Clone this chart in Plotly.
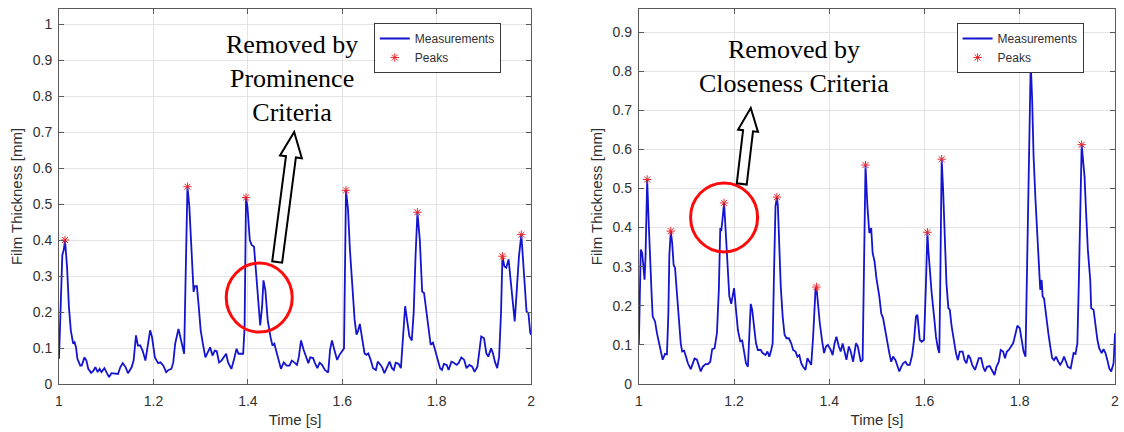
import math
import plotly.graph_objects as go

# ---------------- data ----------------
t_left = [1.000, 1.007, 1.010, 1.0127, 1.017, 1.021, 1.025, 1.030, 1.033, 1.036, 1.039, 1.045, 1.048,
          1.054, 1.058, 1.062, 1.068, 1.073, 1.077, 1.082, 1.086, 1.090, 1.096, 1.101, 1.106, 1.111,
          1.118, 1.125, 1.130, 1.135, 1.141, 1.146, 1.154, 1.158, 1.163, 1.167, 1.172, 1.177, 1.183,
          1.187, 1.193, 1.197, 1.203, 1.210, 1.215, 1.221, 1.227, 1.232, 1.238, 1.242, 1.246, 1.253,
          1.259, 1.265, 1.268, 1.272, 1.276, 1.280, 1.285, 1.288, 1.292, 1.296, 1.300, 1.306, 1.310,
          1.315, 1.320, 1.325, 1.330, 1.334, 1.339, 1.344, 1.349, 1.354, 1.358, 1.365, 1.370, 1.376,
          1.380, 1.386, 1.390, 1.393, 1.396, 1.399, 1.404, 1.408, 1.413, 1.418, 1.423, 1.426, 1.430,
          1.433, 1.437, 1.442, 1.448, 1.452, 1.456, 1.461, 1.466, 1.470, 1.476, 1.482, 1.488, 1.493,
          1.498, 1.504, 1.508, 1.5125, 1.518, 1.524, 1.528, 1.532, 1.538, 1.542, 1.547, 1.552, 1.557,
          1.563, 1.570, 1.574, 1.578, 1.584, 1.589, 1.594, 1.599, 1.6035, 1.6077, 1.612, 1.616, 1.622,
          1.626, 1.630, 1.633, 1.637, 1.641, 1.647, 1.651, 1.655, 1.660, 1.665, 1.671, 1.675, 1.681,
          1.685, 1.689, 1.695, 1.700, 1.705, 1.709, 1.713, 1.719, 1.724, 1.730, 1.733, 1.737, 1.742,
          1.747, 1.751, 1.755, 1.759, 1.764, 1.769, 1.773, 1.778, 1.783, 1.787, 1.792, 1.796, 1.801,
          1.807, 1.811, 1.815, 1.821, 1.825, 1.831, 1.836, 1.842, 1.846, 1.852, 1.858, 1.863, 1.869,
          1.875, 1.880, 1.886, 1.890, 1.894, 1.900, 1.905, 1.909, 1.915, 1.919, 1.923, 1.928, 1.932,
          1.936, 1.939, 1.943, 1.947, 1.952, 1.956, 1.960, 1.965, 1.969, 1.974, 1.979, 1.983, 1.987,
          1.990, 1.994, 1.998, 2.000]
y_left = [0.070, 0.358, 0.372, 0.400, 0.326, 0.214, 0.149, 0.112, 0.116, 0.102, 0.070, 0.051, 0.051,
          0.074, 0.065, 0.042, 0.031, 0.037, 0.047, 0.033, 0.042, 0.033, 0.044, 0.033, 0.019, 0.030,
          0.030, 0.028, 0.047, 0.058, 0.047, 0.030, 0.047, 0.065, 0.135, 0.107, 0.107, 0.093, 0.065,
          0.102, 0.149, 0.130, 0.074, 0.058, 0.060, 0.051, 0.033, 0.039, 0.042, 0.060, 0.112, 0.153,
          0.121, 0.084, 0.288, 0.548, 0.493, 0.381, 0.256, 0.272, 0.272, 0.214, 0.149, 0.102, 0.074,
          0.088, 0.102, 0.079, 0.093, 0.091, 0.060, 0.065, 0.074, 0.084, 0.060, 0.042, 0.065, 0.098,
          0.084, 0.084, 0.084, 0.158, 0.518, 0.493, 0.400, 0.386, 0.381, 0.298, 0.214, 0.163, 0.214,
          0.288, 0.260, 0.177, 0.130, 0.107, 0.112, 0.084, 0.060, 0.042, 0.060, 0.051, 0.051, 0.065,
          0.060, 0.053, 0.076, 0.121, 0.095, 0.072, 0.058, 0.074, 0.072, 0.058, 0.044, 0.059, 0.053,
          0.039, 0.032, 0.095, 0.121, 0.090, 0.067, 0.081, 0.090, 0.099, 0.538, 0.485, 0.374, 0.253,
          0.178, 0.137, 0.146, 0.167, 0.132, 0.085, 0.081, 0.085, 0.067, 0.044, 0.039, 0.062, 0.053,
          0.044, 0.030, 0.048, 0.062, 0.044, 0.039, 0.059, 0.056, 0.044, 0.169, 0.216, 0.178, 0.132,
          0.121, 0.197, 0.355, 0.477, 0.401, 0.257, 0.253, 0.197, 0.151, 0.109, 0.115, 0.095, 0.067,
          0.044, 0.039, 0.056, 0.053, 0.039, 0.062, 0.059, 0.053, 0.058, 0.074, 0.067, 0.044, 0.053,
          0.048, 0.034, 0.048, 0.095, 0.132, 0.127, 0.085, 0.076, 0.099, 0.085, 0.062, 0.044, 0.076,
          0.197, 0.355, 0.327, 0.323, 0.346, 0.299, 0.234, 0.174, 0.253, 0.355, 0.415, 0.327, 0.243,
          0.202, 0.197, 0.141, 0.137]
peaks_left_t = [1.0127, 1.272, 1.396, 1.6077, 1.759, 1.939, 1.979]
peaks_left_y = [0.400, 0.548, 0.518, 0.538, 0.477, 0.355, 0.415]

t_right = [1.000, 1.004, 1.007, 1.010, 1.012, 1.014, 1.0175, 1.021, 1.024, 1.027, 1.029, 1.034, 1.038,
           1.042, 1.046, 1.050, 1.055, 1.059, 1.062, 1.064, 1.067, 1.070, 1.073, 1.076, 1.080, 1.084,
           1.088, 1.091, 1.095, 1.099, 1.103, 1.109, 1.113, 1.117, 1.122, 1.126, 1.130, 1.134, 1.140,
           1.145, 1.150, 1.154, 1.159, 1.164, 1.168, 1.171, 1.173, 1.176, 1.179, 1.182, 1.185, 1.187,
           1.190, 1.194, 1.197, 1.200, 1.204, 1.208, 1.213, 1.217, 1.221, 1.225, 1.229, 1.232, 1.235,
           1.238, 1.242, 1.246, 1.250, 1.256, 1.260, 1.266, 1.270, 1.274, 1.278, 1.281, 1.284, 1.287,
           1.290, 1.292, 1.295, 1.298, 1.302, 1.306, 1.310, 1.315, 1.320, 1.324, 1.329, 1.333, 1.337,
           1.341, 1.345, 1.350, 1.354, 1.358, 1.362, 1.366, 1.371, 1.373, 1.376, 1.380, 1.385, 1.389,
           1.393, 1.397, 1.403, 1.407, 1.411, 1.415, 1.420, 1.424, 1.428, 1.432, 1.436, 1.441, 1.445,
           1.450, 1.456, 1.460, 1.466, 1.470, 1.473, 1.476, 1.480, 1.484, 1.488, 1.491, 1.495, 1.499,
           1.505, 1.509, 1.513, 1.518, 1.522, 1.526, 1.530, 1.534, 1.539, 1.543, 1.547, 1.551, 1.555,
           1.560, 1.564, 1.569, 1.574, 1.578, 1.582, 1.585, 1.587, 1.590, 1.594, 1.599, 1.603, 1.606,
           1.608, 1.611, 1.615, 1.620, 1.624, 1.628, 1.631, 1.633, 1.636, 1.639, 1.642, 1.646, 1.650,
           1.653, 1.657, 1.661, 1.666, 1.670, 1.674, 1.680, 1.684, 1.688, 1.692, 1.696, 1.700, 1.706,
           1.710, 1.714, 1.719, 1.723, 1.727, 1.731, 1.737, 1.741, 1.747, 1.751, 1.756, 1.760, 1.765,
           1.769, 1.773, 1.777, 1.781, 1.786, 1.788, 1.793, 1.795, 1.800, 1.804, 1.808, 1.812, 1.815,
           1.818, 1.821, 1.823, 1.826, 1.829, 1.833, 1.837, 1.840, 1.843, 1.846, 1.848, 1.851, 1.855,
           1.860, 1.864, 1.868, 1.872, 1.876, 1.881, 1.885, 1.889, 1.893, 1.897, 1.901, 1.907, 1.913,
           1.917, 1.921, 1.924, 1.927, 1.930, 1.934, 1.936, 1.939, 1.943, 1.948, 1.950, 1.955, 1.959,
           1.963, 1.967, 1.972, 1.976, 1.980, 1.984, 1.988, 1.992, 1.997, 2.000]
y_right = [0.100, 0.344, 0.335, 0.284, 0.267, 0.326, 0.523, 0.403, 0.292, 0.224, 0.173, 0.160, 0.130,
           0.104, 0.079, 0.062, 0.077, 0.076, 0.181, 0.327, 0.391, 0.361, 0.305, 0.297, 0.232, 0.164,
           0.104, 0.083, 0.085, 0.070, 0.053, 0.038, 0.053, 0.065, 0.062, 0.044, 0.032, 0.044, 0.051,
           0.051, 0.057, 0.089, 0.091, 0.130, 0.241, 0.399, 0.391, 0.425, 0.463, 0.399, 0.344, 0.284,
           0.224, 0.205, 0.224, 0.245, 0.190, 0.138, 0.109, 0.111, 0.083, 0.053, 0.044, 0.121, 0.205,
           0.190, 0.138, 0.104, 0.087, 0.087, 0.079, 0.074, 0.083, 0.070, 0.087, 0.104, 0.292, 0.455,
           0.478, 0.455, 0.352, 0.250, 0.173, 0.126, 0.117, 0.117, 0.104, 0.087, 0.083, 0.070, 0.074,
           0.053, 0.044, 0.036, 0.066, 0.057, 0.049, 0.121, 0.241, 0.248, 0.207, 0.156, 0.109, 0.079,
           0.096, 0.100, 0.087, 0.074, 0.104, 0.121, 0.096, 0.083, 0.104, 0.079, 0.062, 0.096, 0.083,
           0.057, 0.104, 0.096, 0.057, 0.062, 0.292, 0.560, 0.455, 0.386, 0.399, 0.335, 0.314, 0.270,
           0.224, 0.181, 0.168, 0.130, 0.104, 0.079, 0.057, 0.070, 0.061, 0.049, 0.032, 0.044, 0.053,
           0.057, 0.049, 0.049, 0.074, 0.113, 0.173, 0.177, 0.155, 0.113, 0.108, 0.113, 0.258, 0.388,
           0.343, 0.292, 0.232, 0.173, 0.121, 0.091, 0.079, 0.258, 0.575, 0.497, 0.377, 0.258, 0.194,
           0.190, 0.147, 0.113, 0.079, 0.061, 0.083, 0.083, 0.061, 0.053, 0.074, 0.066, 0.049, 0.036,
           0.053, 0.066, 0.066, 0.044, 0.032, 0.044, 0.046, 0.036, 0.023, 0.044, 0.057, 0.087, 0.083,
           0.066, 0.083, 0.087, 0.096, 0.104, 0.113, 0.138, 0.149, 0.143, 0.113, 0.083, 0.070, 0.258,
           0.497, 0.685, 0.822, 0.728, 0.582, 0.471, 0.377, 0.309, 0.241, 0.266, 0.224, 0.219, 0.173,
           0.130, 0.096, 0.066, 0.061, 0.070, 0.057, 0.049, 0.057, 0.070, 0.057, 0.044, 0.040, 0.079,
           0.077, 0.104, 0.258, 0.471, 0.612, 0.557, 0.531, 0.446, 0.343, 0.266, 0.194, 0.190, 0.147,
           0.113, 0.091, 0.079, 0.089, 0.079, 0.061, 0.040, 0.032, 0.053, 0.130]
peaks_right_t = [1.0175, 1.067, 1.179, 1.290, 1.373, 1.476, 1.606, 1.636, 1.823, 1.930]
peaks_right_y = [0.523, 0.391, 0.463, 0.478, 0.248, 0.560, 0.388, 0.575, 0.822, 0.612]

x_ticks = [1, 1.2, 1.4, 1.6, 1.8, 2]
x_title = "Time [s]"
y_title = "Film Thickness [mm]"
legend_names = ["Measurements", "Peaks"]
note_left = "Removed by<br>Prominence<br>Criteria"
note_right = "Removed by<br>Closeness Criteria"

# ---------------- styling ----------------
LINE_C = "#1414d0"
PEAK_C = "#e8262c"
AX_C = "#5a5a5a"
GRID_C = "#e4e4e4"
TXT_C = "#303030"
SANS = "Liberation Sans, Arial, sans-serif"
SERIF = "Liberation Serif, Times New Roman, serif"

fig = go.Figure()

fig.add_trace(go.Scatter(x=t_left, y=y_left, mode="lines", name=legend_names[0],
                         line=dict(color=LINE_C, width=1.8), xaxis="x", yaxis="y", legend="legend"))
fig.add_trace(go.Scatter(x=peaks_left_t, y=peaks_left_y, mode="markers", name=legend_names[1],
                         marker=dict(symbol="asterisk-open", size=7, color=PEAK_C,
                                     line=dict(color=PEAK_C, width=1)),
                         xaxis="x", yaxis="y", legend="legend"))
fig.add_trace(go.Scatter(x=t_right, y=y_right, mode="lines", name=legend_names[0],
                         line=dict(color=LINE_C, width=1.8), xaxis="x2", yaxis="y2", legend="legend2"))
fig.add_trace(go.Scatter(x=peaks_right_t, y=peaks_right_y, mode="markers", name=legend_names[1],
                         marker=dict(symbol="asterisk-open", size=7, color=PEAK_C,
                                     line=dict(color=PEAK_C, width=1)),
                         xaxis="x2", yaxis="y2", legend="legend2"))

common_axis = dict(showline=True, linecolor=AX_C, linewidth=1, mirror="ticks",
                   ticks="inside", ticklen=5, tickcolor=AX_C, showgrid=True,
                   gridcolor=GRID_C, gridwidth=1, zeroline=False,
                   tickfont=dict(family=SANS, size=14, color=TXT_C))

xa = dict(common_axis, range=[1, 2], tickvals=x_ticks, ticklabelstandoff=4,
          title=dict(text=x_title, font=dict(family=SANS, size=15, color=TXT_C), standoff=6))
ya = dict(common_axis, dtick=0.1, tick0=0, ticklabelstandoff=3,
          title=dict(text=y_title, font=dict(family=SANS, size=15, color=TXT_C), standoff=6))

leg = dict(xanchor="left", yanchor="top", bgcolor="white", bordercolor="#3a3a3a",
           borderwidth=1, font=dict(family=SANS, size=12, color=TXT_C), tracegroupgap=0)


def block_arrow(tail, tip, head_len, head_half, shaft_half):
    """Hollow block arrow path in pixel offsets (y up) relative to the tip."""
    dx, dy = tail[0] - tip[0], tail[1] - tip[1]
    L = math.hypot(dx, dy)
    ux, uy = dx / L, dy / L
    nx, ny = uy, -ux
    pts = [(0, 0),
           (ux * head_len + nx * head_half, uy * head_len + ny * head_half),
           (ux * head_len + nx * shaft_half, uy * head_len + ny * shaft_half),
           (ux * L + nx * shaft_half, uy * L + ny * shaft_half),
           (ux * L - nx * shaft_half, uy * L - ny * shaft_half),
           (ux * head_len - nx * shaft_half, uy * head_len - ny * shaft_half),
           (ux * head_len - nx * head_half, uy * head_len - ny * head_half)]
    return "M " + " L ".join(f"{px:.2f},{-py:.2f}" for px, py in pts) + " Z"


shapes = [
    dict(type="circle", xref="x", yref="y", xsizemode="pixel", ysizemode="pixel",
         xanchor=1.424, yanchor=0.240, x0=-33, x1=33, y0=-34.5, y1=34.5,
         line=dict(color="#ff0a0a", width=3)),
    dict(type="circle", xref="x2", yref="y2", xsizemode="pixel", ysizemode="pixel",
         xanchor=1.179, yanchor=0.426, x0=-33.5, x1=33.5, y0=-34.5, y1=34.5,
         line=dict(color="#ff0a0a", width=3)),
    dict(type="path", xref="x", yref="y", xsizemode="pixel", ysizemode="pixel",
         xanchor=1.498, yanchor=0.700, path=block_arrow((278, 262), (295, 132), 25, 11, 5),
         line=dict(color="black", width=2), fillcolor="white"),
    dict(type="path", xref="x2", yref="y2", xsizemode="pixel", ysizemode="pixel",
         xanchor=1.235, yanchor=0.706, path=block_arrow((744, 184), (753, 108), 23, 10, 5),
         line=dict(color="black", width=2), fillcolor="white"),
]

annotations = [
    dict(text=note_left, x=1.494, y=0.848, xref="x", yref="y", showarrow=False,
         xanchor="center", yanchor="middle", font=dict(family=SERIF, size=26, color="black")),
    dict(text=note_right, x=1.325, y=0.811, xref="x2", yref="y2", showarrow=False,
         xanchor="center", yanchor="middle", font=dict(family=SERIF, size=26, color="black")),
]

fig.update_layout(
    width=1124, height=432,
    margin=dict(l=59, r=5, t=9, b=48),
    paper_bgcolor="white", plot_bgcolor="white",
    xaxis=dict(xa, domain=[0, 0.4472], anchor="y"),
    yaxis=dict(ya, range=[0, 1.0417], anchor="x"),
    xaxis2=dict(xa, domain=[0.5491, 1], anchor="y2"),
    yaxis2=dict(ya, range=[0, 0.959], anchor="x2"),
    legend=dict(leg, x=0.2981, y=0.9627),
    legend2=dict(leg, x=0.850, y=0.9627),
    shapes=shapes,
    annotations=annotations,
    showlegend=True,
)

fig.write_html("out.html")
